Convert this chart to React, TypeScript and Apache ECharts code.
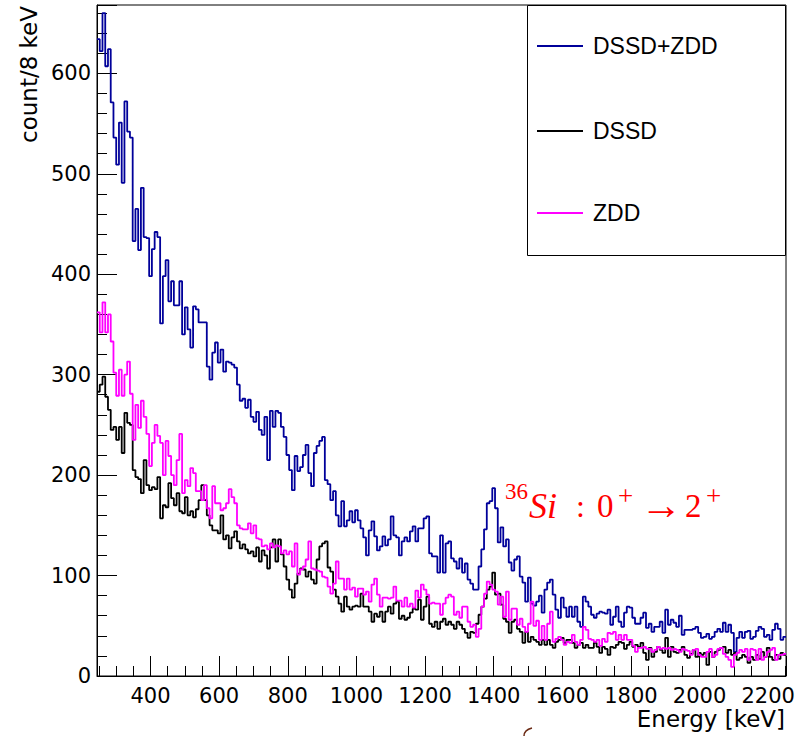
import React, { useEffect, useRef } from "react";
import * as echarts from "echarts";

// Histogram binning (keV)
const binStart = 244;
const binWidth = 8;
const xMin = 244;
const xMax = 2252;
const yMax = 668;

// DSSD+ZDD counts per 8 keV bin, starting at 244 keV
const dssdZdd = [
  634, 622, 660, 607, 624, 571, 536, 509, 551, 491,
  572, 542, 536, 433, 465, 424, 486, 437, 436, 398,
  425, 442, 437, 351, 398, 414, 373, 393, 369, 369,
  393, 340, 367, 345, 327, 368, 365, 352, 352, 352,
  308, 295, 322, 332, 312, 325, 303, 313, 312, 310,
  307, 290, 274, 276, 267, 275, 258, 253, 263, 245,
  240, 258, 215, 264, 248, 264, 262, 248, 238, 220,
  205, 185, 219, 204, 208, 220, 230, 202, 189, 222,
  229, 234, 238, 195, 191, 175, 184, 160, 149, 174,
  149, 155, 164, 153, 165, 155, 147, 138, 120, 145,
  154, 139, 125, 129, 139, 130, 136, 159, 140, 138,
  120, 134, 138, 134, 144, 149, 134, 147, 147, 157,
  159, 122, 119, 119, 103, 140, 103, 132, 134, 117,
  114, 107, 117, 103, 112, 96, 92, 86, 86, 109,
  126, 146, 172, 174, 187, 167, 133, 148, 129, 136,
  113, 105, 116, 119, 99, 93, 74, 98, 72, 70,
  74, 80, 63, 86, 93, 96, 81, 66, 58, 78,
  68, 59, 69, 59, 69, 54, 49, 79, 74, 69,
  61, 58, 62, 64, 63, 62, 66, 51, 59, 69,
  54, 49, 63, 69, 68, 58, 52, 52, 58, 63,
  48, 52, 44, 49, 49, 54, 43, 66, 51, 56,
  53, 49, 60, 41, 46, 46, 46, 47, 49, 43,
  38, 39, 42, 37, 39, 44, 47, 44, 53, 44,
  51, 43, 24, 38, 44, 38, 44, 45, 37, 39,
  45, 49, 47, 39, 41, 36, 46, 52, 47, 36,
  39,
];

// DSSD counts per 8 keV bin
const dssd = [
  283, 290, 298, 278, 265, 245, 248, 235, 248, 222,
  262, 252, 250, 205, 198, 196, 182, 215, 190, 185,
  188, 186, 198, 157, 170, 168, 192, 177, 170, 182,
  164, 162, 178, 160, 164, 158, 166, 175, 190, 175,
  160, 150, 145, 145, 142, 160, 136, 140, 127, 138,
  144, 134, 127, 131, 126, 122, 124, 119, 128, 114,
  125, 120, 107, 128, 136, 114, 136, 121, 109, 96,
  86, 78, 92, 102, 107, 106, 99, 104, 96, 92,
  116, 129, 132, 134, 108, 104, 86, 79, 72, 64,
  79, 69, 66, 69, 70, 69, 82, 69, 69, 64,
  54, 62, 59, 64, 54, 64, 69, 62, 72, 74,
  57, 60, 56, 58, 63, 67,
  66, 76, 56, 69, 79, 52, 49, 54, 47, 54,
  57, 51, 54, 51, 47, 54, 51, 47,
  43, 38, 44, 43, 52, 61, 69, 77, 86, 89,
  103, 81, 82, 71, 57, 54, 43, 54, 56, 47,
  44, 33, 44, 34, 39, 36, 34, 31, 36, 31, 36,
  31, 28, 34, 36, 38, 33, 36, 36, 33, 28,
  31, 33, 28, 31, 28, 28, 33, 29, 23, 29,
  27, 21, 29, 28, 31, 34, 33, 27, 31, 34,
  29, 31, 29,
  33, 23, 16, 28, 19, 24, 29, 26, 23, 38,
  19, 29, 24, 23, 26, 29, 21, 18, 22, 26,
  19, 23, 21, 23, 11, 24, 19, 24, 26, 28, 29, 23, 26,
  21, 23, 16, 18, 21, 19, 13, 19, 16, 21,
  17, 24, 19, 28, 19, 16, 21, 17, 23, 21,
];

// ZDD counts per 8 keV bin
const zdd = [
  362, 342, 372, 342, 360, 333, 302, 279, 305, 279,
  300, 313, 281, 235, 270, 247, 274, 258, 241, 209,
  232, 250, 239, 232, 200, 234, 219, 200, 190, 215,
  241, 182, 195, 189, 207, 202, 184, 184, 175, 190,
  167, 157, 189, 172, 172, 165, 167, 172,
  186, 178, 172, 150, 147, 146, 146, 152, 142, 150,
  137, 136, 129, 130, 126, 132, 128, 130, 129, 122,
  125, 121, 124,
  109, 132, 101, 106, 109, 116, 134, 107, 106, 105,
  104, 99, 98, 89, 82, 92, 114, 97, 97, 86,
  97, 86, 88, 79, 87, 87, 81, 84, 74, 91,
  97, 81, 69, 78, 78, 77, 78, 89, 75, 75,
  69, 78, 69, 72, 68,
  85, 78, 91, 86, 81, 72, 73, 72, 72, 61,
  72, 78, 81, 79, 61, 64, 58, 69,
  69, 54, 49, 51, 39, 47, 69, 82, 94, 91,
  86, 84, 71, 79, 59, 84, 56, 67, 67, 51,
  57, 49, 44, 52, 74, 50, 55, 36, 50, 36, 52, 64,
  34, 37, 39, 36, 31, 34, 33, 41, 34, 31,
  36, 49, 46, 37, 36, 34, 36, 30, 37, 34,
  43, 42, 44, 36, 41, 36, 41, 36, 36, 30,
  24, 28, 28,
  29, 27, 27, 24, 26, 29, 27, 28, 27, 28,
  26, 27, 26, 24, 27, 26, 25, 21, 26, 27,
  21, 19, 19, 24, 27, 19, 21, 27, 28, 22, 19,
  16, 9, 21, 23, 26, 24, 27, 16, 27, 26,
  16, 27, 16, 19, 24, 26, 28, 16, 21, 21, 22,
];

const seriesNames = ["DSSD+ZDD", "DSSD", "ZDD"];
const seriesColors = ["#00009a", "#000000", "#ff00ff"];
const xTitle = "Energy [keV]";
const yTitle = "count/8 keV";

const FONT = '"DejaVu Sans", sans-serif';
const LEG_FONT = '"Liberation Sans", Arial, sans-serif';
const SERIF = '"Liberation Serif", "DejaVu Serif", serif';

function toSteps(values: number[]): number[][] {
  const pts = values.map((v, i) => [binStart + i * binWidth, v]);
  pts.push([binStart + values.length * binWidth, values[values.length - 1]]);
  return pts;
}

export default function App() {
  const ref = useRef<HTMLDivElement>(null);

  useEffect(() => {
    if (!ref.current) return;
    const chart = echarts.init(ref.current, undefined, { renderer: "svg" });
    const allData = [dssdZdd, dssd, zdd];

    const legendY = [46, 131, 213];
    const legendGraphics: any[] = [
      {
        type: "rect",
        z: 10,
        shape: { x: 527.5, y: 5.5, width: 258, height: 250 },
        style: { fill: "#fff", stroke: "#000", lineWidth: 1 },
      },
    ];
    seriesNames.forEach((name, k) => {
      legendGraphics.push({
        type: "line",
        z: 11,
        shape: { x1: 537, y1: legendY[k], x2: 583, y2: legendY[k] },
        style: { stroke: seriesColors[k], lineWidth: 2 },
      });
      legendGraphics.push({
        type: "text",
        z: 11,
        x: 593,
        y: legendY[k],
        style: {
          text: name,
          fill: "#000",
          fontSize: 23,
          fontFamily: LEG_FONT,
          align: "left",
          verticalAlign: "middle",
        },
      });
    });

    const red = "#ff0000";
    const annot: any[] = [
      { t: "36", x: 505, y: 491, size: 23, italic: false },
      { t: "Si", x: 529, y: 506, size: 36, italic: true },
      { t: ":", x: 576, y: 506, size: 32, italic: false },
      { t: "0", x: 597, y: 506, size: 33, italic: false },
      { t: "+", x: 618, y: 496, size: 27, italic: false },
      { t: "→", x: 640, y: 505, size: 42, italic: false },
      { t: "2", x: 685, y: 506, size: 33, italic: false },
      { t: "+", x: 706, y: 496, size: 27, italic: false },
    ].map((a) => ({
      type: "text",
      z: 12,
      x: a.x,
      y: a.y,
      style: {
        text: a.t,
        fill: red,
        fontSize: a.size,
        fontFamily: SERIF,
        fontStyle: a.italic ? "italic" : "normal",
        align: "left",
        verticalAlign: "middle",
      },
    }));

    chart.setOption({
      animation: false,
      backgroundColor: "#fff",
      grid: {
        left: 97,
        right: 12,
        top: 5,
        bottom: 60,
        show: true,
        borderColor: "#000",
        borderWidth: 1,
        backgroundColor: "transparent",
        containLabel: false,
      },
      xAxis: {
        type: "value",
        min: xMin,
        max: xMax,
        splitNumber: 10,
        axisLine: { show: true, lineStyle: { color: "#000", width: 1 } },
        axisTick: { show: true, inside: true, length: 20, lineStyle: { color: "#000", width: 1 } },
        minorTick: { show: true, splitNumber: 4, length: 10, lineStyle: { color: "#000", width: 1 } },
        splitLine: { show: false },
        axisLabel: {
          show: true,
          showMinLabel: false,
          showMaxLabel: false,
          margin: 9,
          color: "#000",
          fontSize: 21,
          fontFamily: FONT,
          formatter: (v: number) => String(v),
        },
      },
      yAxis: {
        type: "value",
        min: 0,
        max: yMax,
        interval: 100,
        axisLine: { show: true, lineStyle: { color: "#000", width: 1 } },
        axisTick: { show: true, inside: true, length: 20, lineStyle: { color: "#000", width: 1 } },
        minorTick: { show: true, splitNumber: 5, length: 10, lineStyle: { color: "#000", width: 1 } },
        splitLine: { show: false },
        axisLabel: {
          show: true,
          showMaxLabel: false,
          margin: 6,
          color: "#000",
          fontSize: 21,
          fontFamily: FONT,
          formatter: (v: number) => String(v),
        },
      },
      series: allData.map((d, k) => ({
        name: seriesNames[k],
        type: "line",
        step: "end",
        data: toSteps(d),
        symbol: "none",
        clip: true,
        lineStyle: { color: seriesColors[k], width: 1.8 },
        itemStyle: { color: seriesColors[k] },
        z: 2 + k,
      })),
      graphic: [
        {
          type: "text",
          x: 29,
          y: 6,
          rotation: Math.PI / 2,
          style: {
            text: yTitle,
            fill: "#000",
            fontSize: 23,
            fontFamily: FONT,
            align: "right",
            verticalAlign: "middle",
          },
        },
        {
          type: "text",
          x: 785,
          y: 719,
          style: {
            text: xTitle,
            fill: "#000",
            fontSize: 23,
            fontFamily: FONT,
            align: "right",
            verticalAlign: "middle",
          },
        },
        {
          type: "bezierCurve",
          shape: { x1: 524, y1: 736, cpx1: 524, cpy1: 730, x2: 532, y2: 728 },
          style: { stroke: "#6b2a14", lineWidth: 1.5, fill: "none" },
        },
        ...legendGraphics,
        ...annot,
      ],
    });

    return () => chart.dispose();
  }, []);

  return (
    <div
      ref={ref}
      style={{ position: "fixed", left: 0, top: 0, width: 798, height: 736, background: "#fff" }}
    />
  );
}
